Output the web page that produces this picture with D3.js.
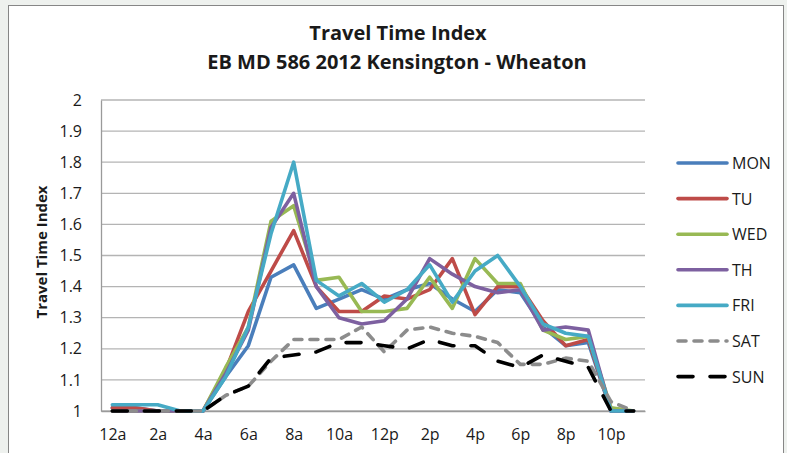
<!DOCTYPE html>
<html>
<head>
<meta charset="utf-8">
<script src="https://cdn.jsdelivr.net/npm/d3@7"></script>
<style>
  body { margin: 0; background: #eef1ee; }
  svg text { font-family: "Open Sans", "DejaVu Sans", sans-serif; fill: #1a1a1a; }
</style>
</head>
<body>
<div class="chart"></div>
<script>
// chart data
var hours = ["12a","1a","2a","3a","4a","5a","6a","7a","8a","9a","10a","11a",
             "12p","1p","2p","3p","4p","5p","6p","7p","8p","9p","10p","11p"];
var yTicks = [1, 1.1, 1.2, 1.3, 1.4, 1.5, 1.6, 1.7, 1.8, 1.9, 2];
var seriesNames = ["MON", "TU", "WED", "TH", "FRI", "SAT", "SUN"];

var mon = [1.01,1.01,1.00,1.00,1.00,1.11,1.21,1.43,1.47,1.33,1.36,1.39,1.36,1.39,1.41,1.36,1.32,1.39,1.38,1.27,1.21,1.22,1.00,1.00];
var tu  = [1.01,1.01,1.00,1.00,1.00,1.13,1.32,1.45,1.58,1.40,1.32,1.32,1.37,1.36,1.39,1.49,1.31,1.40,1.40,1.29,1.21,1.23,1.00,1.00];
var wed = [1.00,1.00,1.00,1.00,1.00,1.14,1.27,1.61,1.66,1.42,1.43,1.32,1.32,1.33,1.43,1.33,1.49,1.41,1.41,1.26,1.23,1.24,1.01,1.00];
var th  = [1.00,1.00,1.00,1.00,1.00,1.12,1.26,1.59,1.70,1.40,1.30,1.28,1.29,1.36,1.49,1.44,1.40,1.38,1.39,1.26,1.27,1.26,1.00,1.00];
var fri = [1.02,1.02,1.02,1.00,1.00,1.11,1.27,1.57,1.80,1.42,1.37,1.41,1.35,1.39,1.47,1.35,1.45,1.50,1.40,1.28,1.25,1.24,1.00,1.00];
var sat = [1.00,1.00,1.00,1.00,1.00,1.05,1.08,1.16,1.23,1.23,1.23,1.27,1.19,1.26,1.27,1.25,1.24,1.22,1.15,1.15,1.17,1.16,1.03,1.00];
var sun = [1.00,1.00,1.00,1.00,1.00,1.05,1.08,1.17,1.18,1.19,1.22,1.22,1.21,1.20,1.23,1.21,1.21,1.16,1.14,1.18,1.16,1.14,1.00,1.00];

var svgWidth = 787;
var svgHeight = 453;

var margin = { top: 100, left: 101, right: 142, bottom: 42 };
var width = svgWidth - margin.left - margin.right;
var height = svgHeight - margin.top - margin.bottom;

// styles per series
var colors = ["#4a7ebb", "#be4b48", "#98b954", "#7d60a0", "#46aac5", "#8c8c8c", "#000000"];
var dashes = [null, null, null, null, null, "8,8", "15,17"];
var allValues = [mon, tu, wed, th, fri, sat, sun];

var svg = d3.select(".chart")
  .append("svg")
  .attr("width", svgWidth)
  .attr("height", svgHeight);

// white chart area with frame
svg.append("rect")
  .attr("x", 8.5)
  .attr("y", 5.5)
  .attr("width", 775)
  .attr("height", 460)
  .attr("fill", "#ffffff")
  .attr("stroke", "#868686")
  .attr("stroke-width", 1);

var chartGroup = svg.append("g")
  .attr("transform", `translate(${margin.left}, ${margin.top})`);

// scales
var xScale = d3.scalePoint()
  .domain(hours)
  .range([0, width])
  .padding(0.5);

var yScale = d3.scaleLinear()
  .domain([1, 2])
  .range([height, 0]);

// gridlines
chartGroup.append("g")
  .selectAll("line")
  .data(yTicks)
  .enter()
  .append("line")
  .attr("x1", 0)
  .attr("x2", width)
  .attr("y1", d => yScale(d))
  .attr("y2", d => yScale(d))
  .attr("stroke", "#b4b4b4")
  .attr("stroke-width", 1.3);

// left axis
var leftAxis = d3.axisLeft(yScale)
  .tickValues(yTicks)
  .tickSize(0)
  .tickPadding(19)
  .tickFormat(d => String(+d.toFixed(1)));

var yAxis = chartGroup.append("g").call(leftAxis);
yAxis.select(".domain").attr("stroke", "#9a9a9a").attr("stroke-width", 1.3);
yAxis.selectAll("text").style("font-size", "16px");

// bottom axis, every second hour labelled
var bottomAxis = d3.axisBottom(xScale)
  .tickValues(hours.filter((h, i) => i % 2 === 0))
  .tickSize(0)
  .tickPadding(18);

var xAxis = chartGroup.append("g")
  .attr("transform", `translate(0, ${height})`)
  .call(bottomAxis);
xAxis.select(".domain").attr("stroke", "#9a9a9a").attr("stroke-width", 1.3);
xAxis.selectAll("text").style("font-size", "16px");

// lines
var line = d3.line()
  .x((d, i) => xScale(hours[i]))
  .y(d => yScale(d));

allValues.forEach(function(vals, k) {
  chartGroup.append("path")
    .datum(vals)
    .attr("d", line)
    .attr("fill", "none")
    .attr("stroke", colors[k])
    .attr("stroke-width", 3.6)
    .attr("stroke-linejoin", "round")
    .attr("stroke-linecap", "round")
    .attr("stroke-dasharray", dashes[k]);
});

// legend
var legend = svg.append("g")
  .attr("transform", "translate(676, 163)");

seriesNames.forEach(function(name, k) {
  var row = legend.append("g")
    .attr("transform", `translate(0, ${k * 35.6})`);
  row.append("line")
    .attr("x1", 2)
    .attr("x2", 51)
    .attr("stroke", colors[k])
    .attr("stroke-width", 3.6)
    .attr("stroke-linecap", "round")
    .attr("stroke-dasharray", dashes[k]);
  row.append("text")
    .attr("x", 56)
    .attr("y", 6)
    .style("font-size", "16px")
    .text(name);
});

// titles
svg.append("text")
  .attr("x", 398)
  .attr("y", 40)
  .attr("text-anchor", "middle")
  .style("font-size", "20px")
  .style("font-weight", "bold")
  .text("Travel Time Index");

svg.append("text")
  .attr("x", 397)
  .attr("y", 69)
  .attr("text-anchor", "middle")
  .style("font-size", "20px")
  .style("font-weight", "bold")
  .text("EB MD 586 2012 Kensington - Wheaton");

svg.append("text")
  .attr("transform", "rotate(-90)")
  .attr("x", -252)
  .attr("y", 47)
  .attr("text-anchor", "middle")
  .style("font-size", "15px")
  .style("font-weight", "bold")
  .text("Travel Time Index");
</script>
</body>
</html>
